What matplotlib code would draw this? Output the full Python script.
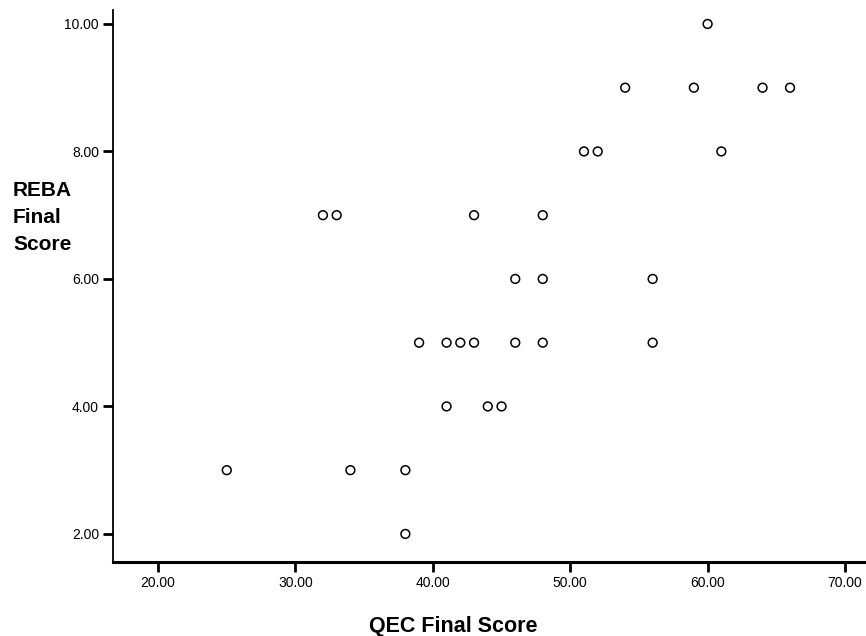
import numpy as np
import matplotlib.pyplot as plt

# QEC vs REBA final scores
qec = [60,
       54, 59, 64, 66,
       51, 52, 61,
       32, 33, 43, 48,
       46, 48, 56,
       39, 41, 42, 43, 46, 48, 56,
       41, 44, 45,
       25, 34, 38,
       38]
reba = [10,
        9, 9, 9, 9,
        8, 8, 8,
        7, 7, 7, 7,
        6, 6, 6,
        5, 5, 5, 5, 5, 5, 5,
        4, 4, 4,
        3, 3, 3,
        2]

x_ticks = [20, 30, 40, 50, 60, 70]
y_ticks = [2, 4, 6, 8, 10]

fig = plt.figure(figsize=(8.66, 6.36), dpi=100)
ax = fig.add_axes([0.1305, 0.1164, 0.8695, 0.868])

ax.scatter(qec, reba, s=40, facecolors='none', edgecolors='black', linewidths=1.1)

ax.set_xlim(16.72, 71.53)
ax.set_ylim(1.56, 10.22)
ax.set_xticks(x_ticks)
ax.set_yticks(y_ticks)
ax.set_xticklabels(['{:.2f}'.format(v) for v in x_ticks], fontsize=10, family='Liberation Sans')
ax.set_yticklabels(['{:.2f}'.format(v) for v in y_ticks], fontsize=10, family='Liberation Sans')

ax.spines['top'].set_visible(False)
ax.spines['right'].set_visible(False)
ax.spines['left'].set_linewidth(1.3)
ax.spines['bottom'].set_linewidth(2.2)
ax.tick_params(axis='both', direction='out', length=7, width=2, color='black', pad=3)

fig.text(0.523, 0.007, 'QEC Final Score', fontsize=15.5, fontweight='bold',
         family='Liberation Sans', ha='center', va='baseline')
fig.text(0.015, 0.716, 'REBA\nFinal\nScore', fontsize=15, fontweight='bold',
         family='Liberation Sans', ha='left', va='top', linespacing=1.55)

plt.savefig('out.png', dpi=100)
